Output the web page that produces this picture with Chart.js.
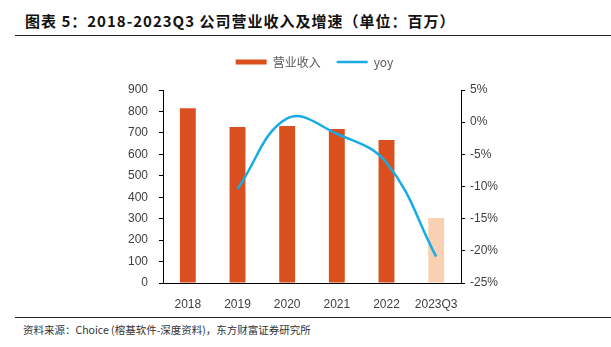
<!DOCTYPE html>
<html>
<head>
<meta charset="utf-8">
<script src="https://cdn.jsdelivr.net/npm/chart.js@4"></script>
<style>
  body { margin: 0; width: 611px; height: 347px; background: #fff; position: relative; overflow: hidden; }
  #title { position: absolute; left: 25px; top: 10px; font: bold 15px "Noto Sans CJK SC", sans-serif; color: #111; white-space: nowrap; letter-spacing: 1px; }
  .rule { position: absolute; left: 15px; width: 596px; height: 1px; background: #222; }
  #src { position: absolute; left: 23px; top: 322px; font: 10.5px "Noto Sans CJK SC", sans-serif; color: #333; white-space: nowrap; }
  #wrap { position: absolute; left: 0; top: 40px; width: 611px; height: 275px; }
</style>
</head>
<body>
<div id="title">图表 5：2018-2023Q3 公司营业收入及增速（单位：百万）</div>
<div class="rule" style="top:35px"></div>
<div id="wrap"><canvas id="myChart"></canvas></div>
<div class="rule" style="top:317px"></div>
<div id="src">资料来源：Choice (榕基软件-深度资料)，东方财富证券研究所</div>
<script>
const years = ['2018', '2019', '2020', '2021', '2022', '2023Q3'];
const revenue = [815, 727, 732, 718, 667, 303];
const yoy = [null, -10.4, 0.6, -1.8, -6.3, -20.9];
const barColors = ['#D9501E', '#D9501E', '#D9501E', '#D9501E', '#D9501E', '#F9D1B2'];

document.addEventListener('DOMContentLoaded', function () {
    const ctx = document.getElementById('myChart').getContext('2d');
    const tickFont = { family: '"Liberation Sans", Arial, sans-serif', size: 12 };

    // extra room between legend and plot
    const legendGap = {
        id: 'legendGap',
        beforeInit(chart) {
            const fit = chart.legend.fit;
            chart.legend.fit = function () {
                fit.bind(chart.legend)();
                this.height += 12;
            };
        }
    };

    new Chart(ctx, {
        type: 'bar',
        data: {
            labels: years,
            datasets: [{
                label: '营业收入',
                data: revenue,
                backgroundColor: barColors,
                pointStyle: 'rect',
                barPercentage: 0.32,
                categoryPercentage: 1,
                yAxisID: 'y',
                order: 2
            }, {
                type: 'line',
                label: 'yoy',
                data: yoy,
                borderColor: '#17ACE6',
                backgroundColor: '#17ACE6',
                borderWidth: 2.5,
                pointRadius: 0,
                pointStyle: 'line',
                tension: 0.4,
                yAxisID: 'y1',
                order: 1
            }]
        },
        options: {
            responsive: true,
            maintainAspectRatio: false,
            animation: false,
            layout: { padding: { left: 18 } },
            plugins: {
                tooltip: { enabled: false },
                legend: {
                    position: 'top',
                    labels: {
                        usePointStyle: true,
                        pointStyleWidth: 31,
                        boxHeight: 5,
                        padding: 16,
                        color: '#595959',
                        font: { family: '"Noto Sans CJK SC", sans-serif', size: 12 },
                        sort: (a, b) => a.datasetIndex - b.datasetIndex
                    }
                }
            },
            scales: {
                x: {
                    grid: { display: false },
                    border: { color: '#000', width: 1 },
                    ticks: { color: '#404040', font: tickFont, padding: 6, maxRotation: 0 },
                    afterFit(scale) { scale.height = 32; }
                },
                y: {
                    position: 'left',
                    min: 0,
                    max: 900,
                    grid: { drawOnChartArea: false, tickLength: 4, color: '#000' },
                    border: { color: '#000', width: 1 },
                    ticks: { stepSize: 100, color: '#404040', font: tickFont, padding: 11 },
                    afterFit(scale) { scale.width = 145; }
                },
                y1: {
                    position: 'right',
                    min: -25,
                    max: 5,
                    grid: { drawOnChartArea: false, tickLength: 4, color: '#000' },
                    border: { color: '#000', width: 1 },
                    ticks: {
                        stepSize: 5,
                        color: '#404040',
                        font: tickFont,
                        padding: 5,
                        callback: v => v + '%'
                    },
                    afterFit(scale) { scale.width = 150; }
                }
            }
        },
        plugins: [legendGap]
    });
});
</script>
</body>
</html>
